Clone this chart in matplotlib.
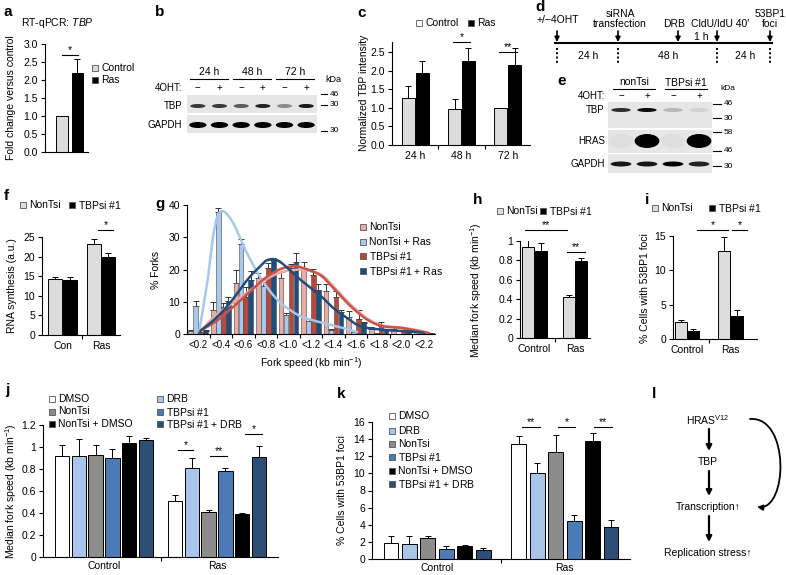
import numpy as np
import matplotlib
matplotlib.use('Agg')
import matplotlib.pyplot as plt
from matplotlib.patches import Rectangle, Ellipse, FancyArrowPatch
from matplotlib.path import Path

plt.rcParams['font.family'] = ['Liberation Sans', 'DejaVu Sans']
plt.rcParams['font.size'] = 7.5
plt.rcParams['mathtext.fontset'] = 'custom'
plt.rcParams['mathtext.rm'] = 'Liberation Sans'
plt.rcParams['mathtext.it'] = 'Liberation Sans:italic'
plt.rcParams['mathtext.bf'] = 'Liberation Sans:bold'
plt.rcParams['axes.linewidth'] = 0.8

# ---- data ----
# a: RT-qPCR TBP
a_groups = ['Control', 'Ras']
a_vals = [1.0, 2.2]
a_err = [0.0, 0.37]

# b: western blot (band intensities 0..1)
b_times = ['24 h', '48 h', '72 h']
b_4oht = ['−', '+', '−', '+', '−', '+']
b_tbp = [0.75, 0.75, 0.6, 0.85, 0.4, 0.9]
b_gapdh = [1.0, 1.0, 1.0, 1.0, 1.0, 1.0]

# c: normalized TBP intensity
c_times = ['24 h', '48 h', '72 h']
c_ctrl = [1.27, 0.98, 1.0]
c_ctrl_err = [0.33, 0.26, 0.0]
c_ras = [1.93, 2.27, 2.15]
c_ras_err = [0.34, 0.35, 0.46]

# e: western blot
e_groups = ['nonTsi', 'TBPsi $\\mathit{\\#1}$']
e_4oht = ['−', '+', '−', '+']
e_tbp = [0.8, 0.95, 0.2, 0.08]
e_hras = [0.03, 1.0, 0.03, 1.0]
e_gapdh = [0.9, 0.9, 1.0, 0.85]

# f: RNA synthesis
f_groups = ['Con', 'Ras']
f_non = [14.2, 23.3]
f_non_err = [0.5, 1.3]
f_tbp = [14.0, 19.8]
f_tbp_err = [0.9, 1.1]

# g: fork speed distribution
g_bins = ['<0.2', '<0.4', '<0.6', '<0.8', '<1.0', '<1.2', '<1.4', '<1.6', '<1.8', '<2.0', '<2.2']
g_labels = ['NonTsi', 'NonTsi + Ras', 'TBPsi $\\mathit{\\#1}$', 'TBPsi $\\mathit{\\#1}$ + Ras']
g_non = [1.0, 7.5, 15.8, 17.3, 17.5, 20.6, 13.2, 5.2, 1.5, 1.5, 0.5]
g_non_err = [0.3, 2.4, 3.9, 1.5, 1.7, 1.8, 2.3, 1.8, 0.8, 1.0, 0.2]
g_non_ras = [8.8, 37.7, 27.8, 15.0, 6.0, 4.1, 1.3, 0.5, 0.3, 0.0, 0.0]
g_non_ras_err = [1.3, 1.5, 1.7, 1.2, 0.5, 0.4, 0.3, 0.2, 0.1, 0.0, 0.0]
g_tbp = [0.5, 8.5, 11.4, 20.4, 20.5, 18.3, 11.4, 4.5, 2.5, 1.2, 0.5]
g_tbp_err = [0.2, 1.0, 3.1, 1.5, 1.2, 1.9, 1.8, 3.0, 1.3, 0.8, 0.2]
g_tbp_ras = [1.0, 10.1, 16.8, 23.0, 22.3, 13.5, 6.8, 3.3, 1.2, 0.6, 0.3]
g_tbp_ras_err = [0.2, 1.5, 2.6, 0.7, 2.7, 2.0, 0.7, 0.5, 0.3, 0.2, 0.1]
# trend-line knots (x in bin units)
g_fit_non_x = [0.1, 0.8, 1.4, 2.2, 2.9, 3.6, 4.2, 4.6, 5.4, 6.0, 6.7, 7.5, 8.2, 9.0, 9.85, 10.2]
g_fit_non_y = [1, 6, 9, 13, 16.5, 19, 19.8, 19.9, 18.6, 14.8, 9.5, 4.8, 2.6, 2.0, 1.0, 0.4]
g_fit_non_ras_x = [0.05, 0.4, 0.7, 1.0, 1.5, 2.2, 2.9, 3.6, 4.4, 5.0, 5.5, 6.4, 7.05]
g_fit_non_ras_y = [1, 16, 32, 38, 35, 24.5, 16, 10, 6, 4.4, 3.5, 1.9, 0.6]
g_fit_tbp_x = [0.1, 0.8, 1.4, 2.2, 2.9, 3.6, 4.2, 4.6, 5.4, 6.0, 6.7, 7.5, 8.2, 9.0, 9.85, 10.2]
g_fit_tbp_y = [1, 4, 7.5, 12.5, 17, 20, 21, 20.6, 18.3, 14.2, 9, 4.4, 2.4, 1.9, 0.8, 0.3]
g_fit_tbp_ras_x = [0.1, 0.8, 1.4, 2.2, 2.75, 3.1, 3.6, 4.5, 5.4, 6.0, 6.6, 7.2, 8.2, 9.4, 10.0]
g_fit_tbp_ras_y = [1, 5, 9.6, 17, 21, 23, 22.5, 17, 12, 8, 5, 2.4, 1.3, 0.8, 0.3]

# h: median fork speed
h_groups = ['Control', 'Ras']
h_non = [0.94, 0.42]
h_non_err = [0.08, 0.02]
h_tbp = [0.90, 0.79]
h_tbp_err = [0.08, 0.03]

# i: 53BP1 foci
i_groups = ['Control', 'Ras']
i_non = [2.5, 12.8]
i_non_err = [0.3, 2.0]
i_tbp = [1.2, 3.4]
i_tbp_err = [0.25, 0.8]

# j, k: DRB experiments
jk_groups = ['Control', 'Ras']
jk_labels = ['DMSO', 'DRB', 'NonTsi', 'TBPsi $\\mathit{\\#1}$', 'NonTsi + DMSO', 'TBPsi $\\mathit{\\#1}$ + DRB']
j_ctrl = [0.92, 0.92, 0.93, 0.90, 1.04, 1.06]
j_ctrl_err = [0.10, 0.15, 0.09, 0.08, 0.06, 0.02]
j_ras = [0.51, 0.81, 0.41, 0.78, 0.39, 0.91]
j_ras_err = [0.05, 0.09, 0.02, 0.03, 0.01, 0.10]
k_ctrl = [1.9, 1.8, 2.5, 1.2, 1.5, 1.1]
k_ctrl_err = [0.8, 0.9, 0.2, 0.3, 0.1, 0.2]
k_ras = [13.4, 10.0, 12.5, 4.4, 13.8, 3.7]
k_ras_err = [1.0, 1.2, 2.0, 0.7, 0.9, 0.9]

# colours
LGRAY = '#dcdcdc'
G_COLS = ['#e8aca6', '#a9c8ea', '#b8473c', '#1f4e7c']
JK_COLS = ['white', '#a9c6ea', '#8c8c8c', '#4a7bb7', 'black', '#2e4f75']

W, H = 786, 575
fig = plt.figure(figsize=(W / 100, H / 100), dpi=100)


def add_ax(l, t, r, b):
    return fig.add_axes([l / W, 1 - b / H, (r - l) / W, (b - t) / H])


def style(ax, yticks, fmt='{:g}'):
    for s in ['top', 'right']:
        ax.spines[s].set_visible(False)
    ax.set_yticks(yticks)
    ax.set_yticklabels([fmt.format(v) for v in yticks])
    ax.tick_params(direction='out', length=3, width=0.8, labelsize=7.5, pad=2)


def cats(ax, labels, boundaries):
    ax.set_xticks(boundaries)
    ax.set_xticklabels([''] * len(boundaries))
    ax.set_xticks(np.arange(len(labels)), minor=True)
    ax.set_xticklabels(labels, minor=True)
    ax.tick_params(axis='x', which='minor', length=0, pad=4, labelsize=7.5)


def bars(ax, x, vals, errs, color, width, ec='black', lw=0.7, ecol='black'):
    x = np.asarray(x, float)
    vals = np.asarray(vals, float)
    errs = np.asarray(errs, float)
    ax.bar(x, vals, width, color=color, edgecolor=ec, linewidth=lw, zorder=2)
    m = errs > 0
    ax.errorbar(x[m], vals[m], yerr=[np.zeros(m.sum()), errs[m]], fmt='none',
                ecolor=ecol, elinewidth=0.7, capsize=2, capthick=0.7, zorder=1)


def sig(ax, x0, x1, y, txt):
    ax.plot([x0, x1], [y, y], color='black', lw=0.8, clip_on=False)
    ax.text((x0 + x1) / 2, y, txt, ha='center', va='bottom', fontsize=7.5)


def smooth(xk, yk, n=24):
    p = np.array([xk, yk], float).T
    p = np.vstack([p[0], p, p[-1]])
    out = []
    t = np.linspace(0, 1, n)[:, None]
    for i in range(1, len(p) - 2):
        p0, p1, p2, p3 = p[i - 1], p[i], p[i + 1], p[i + 2]
        out.append(0.5 * (2 * p1 + (-p0 + p2) * t + (2 * p0 - 5 * p1 + 4 * p2 - p3) * t ** 2
                          + (-p0 + 3 * p1 - 3 * p2 + p3) * t ** 3))
    return np.vstack(out)


# ---- a ----
ax = add_ax(45, 44, 88, 152)
bars(ax, [0, 1], a_vals, a_err, [LGRAY, 'black'], 0.77)
ax.set_xlim(-1.1, 1.68)
ax.set_ylim(0, 3.0)
style(ax, np.arange(0, 3.01, 0.5), '{:.1f}')
ax.set_xticks([])
sig(ax, 0, 1.05, 2.69, '*')

# ---- c ----
ax = add_ax(392, 42, 530, 145)
x = np.arange(3)
bars(ax, x - 0.15, c_ctrl, c_ctrl_err, LGRAY, 0.28)
bars(ax, x + 0.15, c_ras, c_ras_err, 'black', 0.28)
ax.set_xlim(-0.5, 2.48)
ax.set_ylim(0, 2.77)
style(ax, np.arange(0, 2.51, 0.5), '{:.1f}')
cats(ax, c_times, [0.5, 1.5])
sig(ax, 0.82, 1.18, 2.77, '*')
sig(ax, 1.8, 2.2, 2.5, '**')

# ---- f ----
ax = add_ax(42, 237, 120, 335)
x = np.arange(2)
bars(ax, x - 0.19, f_non, f_non_err, LGRAY, 0.37)
bars(ax, x + 0.19, f_tbp, f_tbp_err, 'black', 0.37)
ax.set_xlim(-0.54, 1.5)
ax.set_ylim(0, 25)
style(ax, [0, 5, 10, 15, 20, 25])
cats(ax, f_groups, [0.5])
sig(ax, 0.92, 1.32, 26.8, '*')

# ---- g ----
ax = add_ax(187, 205, 435, 334)
x = np.arange(len(g_bins))
g_series = [(g_non, g_non_err), (g_non_ras, g_non_ras_err), (g_tbp, g_tbp_err), (g_tbp_ras, g_tbp_ras_err)]
for si, (v, e) in enumerate(g_series):
    bars(ax, x + (si - 1.5) * 0.22, v, e, G_COLS[si], 0.21, ec='#444444', lw=0.4, ecol='#333333')
fits = [(g_fit_non_x, g_fit_non_y), (g_fit_non_ras_x, g_fit_non_ras_y),
        (g_fit_tbp_x, g_fit_tbp_y), (g_fit_tbp_ras_x, g_fit_tbp_ras_y)]
fit_cols = ['#eaa9a3', '#a6c8ec', '#c9534a', '#1f4e7c']
for (fx, fy), c in zip(fits, fit_cols):
    s = smooth(fx, fy)
    ax.plot(s[:, 0], s[:, 1], color=c, lw=1.8, zorder=4, solid_capstyle='round')
ax.set_xlim(-0.5, 10.5)
ax.set_ylim(0, 40)
style(ax, [0, 10, 20, 30, 40])
cats(ax, g_bins, np.arange(0.5, 10.5, 1))
ax.tick_params(axis='x', which='minor', labelsize=7, pad=4)

# ---- h ----
ax = add_ax(520, 241, 590, 338)
x = np.arange(2)
bars(ax, x - 0.155, h_non, h_non_err, LGRAY, 0.3)
bars(ax, x + 0.155, h_tbp, h_tbp_err, 'black', 0.3)
ax.set_xlim(-0.36, 1.37)
ax.set_ylim(0, 1.0)
style(ax, [0, 0.2, 0.4, 0.6, 0.8, 1])
cats(ax, h_groups, [0.5])
sig(ax, -0.23, 0.8, 1.11, '**')
sig(ax, 0.8, 1.25, 0.89, '**')

# ---- i ----
ax = add_ax(673, 236, 757, 339)
bars(ax, x - 0.14, i_non, i_non_err, LGRAY, 0.28)
bars(ax, x + 0.14, i_tbp, i_tbp_err, 'black', 0.28)
ax.set_xlim(-0.32, 1.61)
ax.set_ylim(0, 15)
style(ax, [0, 5, 10, 15])
cats(ax, i_groups, [0.5])
sig(ax, 0.23, 0.95, 15.9, '*')
sig(ax, 1.03, 1.38, 15.9, '*')

# ---- j ----
ax = add_ax(43, 425, 278, 557)
step = 0.148
for si in range(6):
    bars(ax, x + (si - 2.5) * step, [j_ctrl[si], j_ras[si]], [j_ctrl_err[si], j_ras_err[si]],
         JK_COLS[si], 0.128)
ax.set_xlim(-0.54, 1.54)
ax.set_ylim(0, 1.2)
style(ax, [0, 0.2, 0.4, 0.6, 0.8, 1, 1.2])
cats(ax, jk_groups, [0.5])
ax.tick_params(axis='x', which='minor', pad=3)
sig(ax, 0.655, 0.79, 0.97, '*')
sig(ax, 0.94, 1.09, 0.92, '**')
sig(ax, 1.25, 1.4, 1.12, '*')

# ---- k ----
ax = add_ax(372, 422, 630, 559)
step = 0.1445
for si in range(6):
    bars(ax, x + (si - 2.5) * step, [k_ctrl[si], k_ras[si]], [k_ctrl_err[si], k_ras_err[si]],
         JK_COLS[si], 0.117)
ax.set_xlim(-0.51, 1.51)
ax.set_ylim(0, 16)
style(ax, np.arange(0, 17, 2))
cats(ax, jk_groups, [0.5])
ax.tick_params(axis='x', which='minor', pad=3)
sig(ax, 0.664, 0.805, 15.4, '**')
sig(ax, 0.945, 1.08, 15.4, '*')
sig(ax, 1.23, 1.37, 15.4, '**')


# ---- blots ----
def blot_ax(l, r, n, t=55, b=180):
    a = add_ax(l, t, r, b)
    a.set_xlim(-0.5, n - 0.5)
    a.set_ylim(b, t)
    a.axis('off')
    return a


def strip(a, n, top, bot, vals, yc, w, h):
    a.add_patch(Rectangle((-0.5, top), n, bot - top, fc='#e6e6e6', ec='none'))
    for i, v in enumerate(vals):
        a.add_patch(Ellipse((i, yc), w, h, fc='black', ec='none', alpha=v))


# b
bx = blot_ax(187, 317, 6)
for k, t in enumerate(b_times):
    bx.text(2 * k + 0.5, 72, t, ha='center', va='center', fontsize=7.5)
    bx.plot([2 * k - 0.38, 2 * k + 1.38], [79, 79], color='black', lw=0.8)
bx.text(-0.73, 88, '4OHT:', ha='right', va='center', fontsize=7)
for i, s in enumerate(b_4oht):
    bx.text(i, 88, s, ha='center', va='center', fontsize=7)
strip(bx, 6, 95, 113, b_tbp, 106, 0.7, 4)
strip(bx, 6, 115, 133, b_gapdh, 125, 0.8, 6)
bx.text(-0.73, 106, 'TBP', ha='right', va='center', fontsize=7)
bx.text(-0.73, 125, 'GAPDH', ha='right', va='center', fontsize=7)
bx.text(6.25, 80, 'kDa', ha='center', va='center', fontsize=6.5)
for lab, yy in [('46', 94), ('30', 105), ('30', 131)]:
    bx.plot([5.68, 5.96], [yy, yy], color='black', lw=0.8, clip_on=False)
    bx.text(6.1, yy, lab, ha='left', va='center', fontsize=6)

# e
ex = blot_ax(608, 712, 4, t=75, b=180)
for k, t in enumerate(e_groups):
    ex.text(2 * k + 0.5, 82, t, ha='center', va='center', fontsize=7.5)
    ex.plot([2 * k - 0.3, 2 * k + 1.3], [89, 89], color='black', lw=0.8)
ex.text(-0.62, 96, '4OHT:', ha='right', va='center', fontsize=7)
for i, s in enumerate(e_4oht):
    ex.text(i, 96, s, ha='center', va='center', fontsize=7)
strip(ex, 4, 102, 128, e_tbp, 110, 0.75, 4)
strip(ex, 4, 130, 153, e_hras, 141, 0.95, 14)
strip(ex, 4, 154, 173, e_gapdh, 164, 0.8, 5)
for lab, yy in [('TBP', 110), ('HRAS', 141), ('GAPDH', 164)]:
    ex.text(-0.62, yy, lab, ha='right', va='center', fontsize=7)
ex.text(4.1, 89, 'kDa', ha='center', va='center', fontsize=6)
for lab, yy in [('46', 104), ('30', 118), ('58', 132), ('46', 151), ('30', 166)]:
    ex.plot([3.55, 3.85], [yy, yy], color='black', lw=0.8, clip_on=False)
    ex.text(3.95, yy, lab, ha='left', va='center', fontsize=6)

# ---- d timeline ----
dx = add_ax(540, 0, 786, 70)
dx.set_xlim(540, 786)
dx.set_ylim(70, 0)
dx.axis('off')
d_events = ['+/−4OHT', 'siRNA\ntransfection', 'DRB', 'CldU/IdU 40′', '53BP1\nfoci']
d_event_x = [557, 618, 678, 717, 770]
d_label_x = [558, 620, 674, 720, 770]
d_label_y = [20, 19, 24, 24, 19]
d_dotted = [557, 618, 717, 770]
d_intervals = ['24 h', '48 h', '24 h']
d_interval_x = [588, 668, 745]
dx.plot([555, 772], [43, 43], color='black', lw=1.5)
for ex_, lx, ly, txt in zip(d_event_x, d_label_x, d_label_y, d_events):
    dx.annotate('', xy=(ex_, 42), xytext=(ex_, 31),
                arrowprops=dict(arrowstyle='-|>', lw=1.2, color='black', mutation_scale=7,
                                shrinkA=0, shrinkB=0))
    dx.text(lx, ly, txt, ha='center', va='center', fontsize=7.5, linespacing=1.0)
for xx in d_dotted:
    dx.plot([xx, xx], [48, 63], color='black', lw=1.4, ls=(0, (1, 1.2)))
for xx, t in zip(d_interval_x, d_intervals):
    dx.text(xx, 56, t, ha='center', va='center', fontsize=7.5)
dx.text(701, 37, '1 h', ha='center', va='center', fontsize=7.5)

# ---- overlay: panel letters, legends, y labels, panel l ----
ov = fig.add_axes([0, 0, 1, 1])
ov.set_xlim(0, W)
ov.set_ylim(H, 0)
ov.axis('off')


def leg(xm, y, color, label):
    ov.add_patch(Rectangle((xm - 3, y - 3), 6, 6, fc=color, ec='#555555', lw=0.6))
    ov.text(xm + 6, y, label, ha='left', va='center', fontsize=7.5)


for lab, (px, py) in zip('abcdefghijkl', [(4, 12), (155, 12), (357, 13), (535, 7), (557, 81),
                                            (4, 196), (155, 204), (473, 200), (645, 200),
                                            (5, 390), (337, 394), (652, 394)]):
    ov.text(px, py, lab, fontsize=11, fontweight='bold', ha='left', va='center')

ov.text(57, 23, 'RT-qPCR: $\\mathit{TBP}$', ha='center', va='center', fontsize=7.5)
leg(95, 68, LGRAY, a_groups[0])
leg(95, 80, 'black', a_groups[1])
leg(419, 23, 'white', 'Control')
leg(471, 23, 'black', 'Ras')
leg(23, 205, LGRAY, 'NonTsi')
leg(72, 205, 'black', 'TBPsi $\\mathit{\\#1}$')
for i, (lab, c) in enumerate(zip(g_labels, G_COLS)):
    leg(363, 227 + 14.6 * i, c, lab)
leg(500, 211, LGRAY, 'NonTsi')
leg(543, 211, 'black', 'TBPsi $\\mathit{\\#1}$')
leg(655, 208, LGRAY, 'NonTsi')
leg(712, 208, 'black', 'TBPsi $\\mathit{\\#1}$')
for i in range(3):
    leg(52, 399 + 12.5 * i, JK_COLS[2 * i], jk_labels[2 * i])
    leg(160, 399 + 12.5 * i, JK_COLS[2 * i + 1], jk_labels[2 * i + 1])
for i, yy in enumerate([416, 430.5, 444, 457, 470.5, 483.5]):
    leg(392, yy, JK_COLS[i], jk_labels[i])

ylabs = [(11, 98, 'Fold change versus control'), (364, 93, 'Normalized TBP intensity'),
         (12, 286, 'RNA synthesis (a.u.)'), (156, 270, '% Forks'),
         (476, 290, 'Median fork speed (kb min$^{-1}$)'), (645, 288, '% Cells with 53BP1 foci'),
         (11, 491, 'Median fork speed (kb min$^{-1}$)'), (342, 490, '% Cells with 53BP1 foci')]
for px, py, t in ylabs:
    ov.text(px, py, t, rotation=90, ha='center', va='center', fontsize=7.5)
ov.text(311, 363, 'Fork speed (kb min$^{-1}$)', ha='center', va='center', fontsize=7.5)

# panel l
l_steps = ['HRAS$^{\\mathrm{V12}}$', 'TBP', 'Transcription↑', 'Replication stress↑']
l_y = [420, 462, 507, 553]
for t, yy in zip(l_steps, l_y):
    ov.text(708, yy, t, ha='center', va='center', fontsize=7.5)
for y0, y1 in zip(l_y[:-1], l_y[1:]):
    ov.annotate('', xy=(709, y1 - 11), xytext=(709, y0 + 9),
                arrowprops=dict(arrowstyle='-|>', lw=1.6, color='black', mutation_scale=8,
                                shrinkA=0, shrinkB=0))
loop = Path([(750, 419), (790, 416), (788, 510), (757, 507)],
            [Path.MOVETO, Path.CURVE4, Path.CURVE4, Path.CURVE4])
ov.add_patch(FancyArrowPatch(path=loop, arrowstyle='-|>', mutation_scale=8, lw=1.3,
                             color='black'))

fig.savefig('out.png', dpi=100)
